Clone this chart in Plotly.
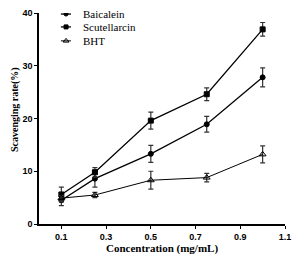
import plotly.graph_objects as go

conc = [0.1, 0.25, 0.5, 0.75, 1.0]
baicalein = [4.5, 8.6, 13.3, 18.9, 27.8]
baicalein_err = [1.0, 1.6, 1.6, 1.5, 1.8]
scutellarcin = [5.6, 9.8, 19.6, 24.6, 36.9]
scutellarcin_err = [1.4, 0.9, 1.6, 1.2, 1.3]
bht = [4.9, 5.5, 8.3, 8.8, 13.2]
bht_err = [0.5, 0.5, 1.7, 0.8, 1.6]
series_names = ["Baicalein", "Scutellarcin", "BHT"]
x_ticks = [0.1, 0.3, 0.5, 0.7, 0.9, 1.1]
y_ticks = [0, 10, 20, 30, 40]

SERIF = "Liberation Serif"
SANS = "Liberation Sans"

symbols = ["circle", "square", "triangle-up-open"]
sizes = [5, 5, 6]
widths = [1.3, 1.3, 1.0]
data = [(baicalein, baicalein_err), (scutellarcin, scutellarcin_err), (bht, bht_err)]

fig = go.Figure()
for name, (y, err), sym, sz, w in zip(series_names, data, symbols, sizes, widths):
    fig.add_trace(go.Scatter(
        x=conc, y=y, name=name, mode="lines+markers", showlegend=False,
        line=dict(color="black", width=w),
        marker=dict(symbol=sym, size=sz, color="black", line=dict(color="black", width=1)),
        error_y=dict(type="data", array=err, color="#333", thickness=1.2, width=2.5),
    ))

# manual legend (compact rows) on overlay axes spanning the plot area
leg_y = [0.995, 0.934, 0.868]
leg_x0, leg_x1, leg_xm, leg_xt = 0.089, 0.130, 0.110, 0.172
for name, sym, sz, w, ly in zip(series_names, symbols, sizes, widths, leg_y):
    fig.add_trace(go.Scatter(
        x=[leg_x0, leg_xm, leg_x1], y=[ly, ly, ly], xaxis="x2", yaxis="y2",
        mode="lines", line=dict(color="black", width=w), showlegend=False, hoverinfo="skip"))
    fig.add_trace(go.Scatter(
        x=[leg_xm], y=[ly], xaxis="x2", yaxis="y2", mode="markers",
        marker=dict(symbol=sym, size=sz - 1, color="black", line=dict(color="black", width=1)),
        showlegend=False, hoverinfo="skip"))
    fig.add_annotation(x=leg_xt, y=ly, xref="x2", yref="y2", text=name, showarrow=False,
                       xanchor="left", yanchor="middle",
                       font=dict(family=SERIF, size=11, color="black"))

# y-axis title, positioned like the reference (slightly above centre)
fig.add_annotation(x=15, y=0.54, xref="paper", yref="paper", text="<b>Scavenging rate(%)</b>",
                   showarrow=False, textangle=-90, xanchor="center", yanchor="middle",
                   font=dict(family=SERIF, size=10, color="black"))
fig.layout.annotations[-1].update(x=(15 - 39) / 246)

fig.update_layout(
    width=301, height=264,
    margin=dict(l=39, r=16, t=13, b=40, autoexpand=False),
    plot_bgcolor="white", paper_bgcolor="white",
    showlegend=False,
    font=dict(family=SANS, color="black"),
    xaxis2=dict(overlaying="x", range=[0, 1], visible=False, fixedrange=True),
    yaxis2=dict(overlaying="y", range=[0, 1], visible=False, fixedrange=True),
    xaxis=dict(
        range=[0, 1.1], tickvals=x_ticks, ticktext=[f"<b>{v}</b>" for v in x_ticks],
        showline=True, linecolor="black", linewidth=1.5, ticks="outside", ticklen=3,
        tickcolor="black", tickwidth=1.2, showgrid=False, zeroline=False, automargin=False,
        tickfont=dict(family=SANS, size=9, color="black"),
        title=dict(text="<b>Concentration (mg/mL)</b>", standoff=3,
                   font=dict(family=SERIF, size=11, color="black")),
    ),
    yaxis=dict(
        range=[0, 40], tickvals=y_ticks, ticktext=[f"<b>{v}</b>" for v in y_ticks],
        showline=True, linecolor="black", linewidth=1.5, ticks="outside", ticklen=3,
        tickcolor="black", tickwidth=1.2, showgrid=False, zeroline=False, automargin=False,
        tickfont=dict(family=SANS, size=9, color="black"),
    ),
)
fig.write_html("out.html", config={"displayModeBar": False},
               post_script="document.body.style.margin='0';document.body.style.padding='0';")
